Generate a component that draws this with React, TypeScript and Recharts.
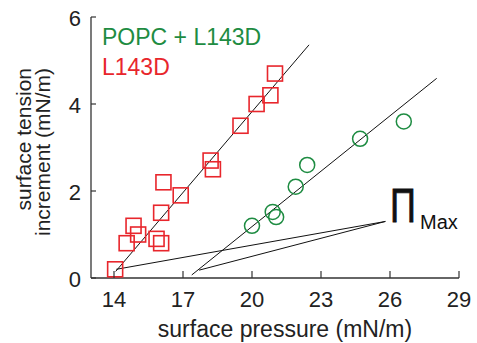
import React from "react";
import { ScatterChart, Scatter, XAxis, YAxis, ReferenceLine } from "recharts";

document.body.style.margin = "0";

const RED = "#e8262c";
const GREEN = "#1e8c42";
const FONT = "'Liberation Sans', Arial, sans-serif";

const xTicks = [14, 17, 20, 23, 26, 29];
const yTicks = [0, 2, 4, 6];

const l143d = [
  { x: 14.05, y: 0.2 },
  { x: 14.55, y: 0.8 },
  { x: 14.85, y: 1.2 },
  { x: 15.05, y: 1.0 },
  { x: 15.85, y: 0.9 },
  { x: 16.05, y: 0.8 },
  { x: 16.05, y: 1.5 },
  { x: 16.15, y: 2.2 },
  { x: 16.9, y: 1.9 },
  { x: 18.2, y: 2.7 },
  { x: 18.3, y: 2.5 },
  { x: 19.5, y: 3.5 },
  { x: 20.2, y: 4.0 },
  { x: 20.8, y: 4.2 },
  { x: 21.0, y: 4.7 },
];

const popcL143d = [
  { x: 20.0, y: 1.2 },
  { x: 20.9, y: 1.52 },
  { x: 21.05, y: 1.4 },
  { x: 21.9, y: 2.1 },
  { x: 22.4, y: 2.6 },
  { x: 24.7, y: 3.2 },
  { x: 26.6, y: 3.6 },
];

// linear fits and the two pointers to the x-intercepts
const fitL143d = [{ x: 14.07, y: 0.15 }, { x: 22.48, y: 5.36 }];
const fitPopc = [{ x: 17.38, y: 0.07 }, { x: 28.03, y: 4.59 }];
const pointerL143d = [{ x: 14.1, y: 0.2 }, { x: 25.8, y: 1.3 }];
const pointerPopc = [{ x: 17.7, y: 0.18 }, { x: 25.8, y: 1.3 }];

const Square = (p: any) => (
  <rect x={p.cx - 7.5} y={p.cy - 7.5} width={15} height={15} fill="none" stroke={RED} strokeWidth={1.6} />
);

const Ring = (p: any) => <circle cx={p.cx} cy={p.cy} r={7.5} fill="none" stroke={GREEN} strokeWidth={1.5} />;

const XTick = ({ x, y, payload }: any) => (
  <g>
    <line x1={x} y1={y} x2={x} y2={y - 7} stroke="#333" strokeWidth={1.2} />
    <text x={x} y={y + 29} textAnchor="middle" fontSize={22} fontFamily={FONT} fill="#222">
      {payload.value}
    </text>
  </g>
);

const YTick = ({ x, y, payload }: any) => (
  <g>
    <line x1={x} y1={y} x2={x + 5} y2={y} stroke="#333" strokeWidth={1.2} />
    <text x={x - 10} y={y + 9} textAnchor="end" fontSize={22} fontFamily={FONT} fill="#222">
      {payload.value}
    </text>
  </g>
);

const seg = (pts: { x: number; y: number }[]) => pts.map((p) => ({ x: p.x, y: p.y }));

export default function App() {
  return (
    <ScatterChart width={477} height={343} margin={{ top: 17, right: 18, bottom: 0, left: 0 }}>
      <XAxis
        type="number"
        dataKey="x"
        domain={[13, 29]}
        ticks={xTicks}
        allowDataOverflow
        height={65}
        tickSize={0}
        tickMargin={0}
        tickLine={false}
        axisLine={{ stroke: "#333", strokeWidth: 1.3 }}
        tick={<XTick />}
        label={{
          content: () => (
            <text x={285} y={337} textAnchor="middle" fontSize={23} fontFamily={FONT} fill="#222">
              surface pressure (mN/m)
            </text>
          ),
        }}
      />
      <YAxis
        type="number"
        dataKey="y"
        domain={[0, 6]}
        ticks={yTicks}
        allowDataOverflow
        width={91}
        tickSize={0}
        tickMargin={0}
        tickLine={false}
        axisLine={{ stroke: "#333", strokeWidth: 1.3 }}
        tick={<YTick />}
        label={{
          content: () => (
            <g fontSize={21} fontFamily={FONT} fill="#222" textAnchor="end">
              <text transform="translate(31,68) rotate(-90)">surface tension</text>
              <text transform="translate(50,68) rotate(-90)">increment (mN/m)</text>
            </g>
          ),
        }}
      />
      <ReferenceLine segment={seg(fitL143d)} stroke="#111" strokeWidth={1} />
      <ReferenceLine segment={seg(fitPopc)} stroke="#111" strokeWidth={1} />
      <ReferenceLine segment={seg(pointerL143d)} stroke="#111" strokeWidth={1} />
      <ReferenceLine segment={seg(pointerPopc)} stroke="#111" strokeWidth={1} />
      <Scatter name="L143D" data={l143d} shape={Square} isAnimationActive={false} />
      <Scatter name="POPC + L143D" data={popcL143d} shape={Ring} isAnimationActive={false} />
      <text x={102} y={45} fontSize={23} fontFamily={FONT} fill={GREEN}>
        POPC + L143D
      </text>
      <text x={102} y={75} fontSize={23} fontFamily={FONT} fill={RED}>
        L143D
      </text>
      <text transform="translate(390,222) scale(0.78,1.05)" fontSize={46} fontFamily={FONT} fill="#111" stroke="#111" strokeWidth={0.8}>
        Π
      </text>
      <text x={420} y={229} fontSize={20} fontFamily={FONT} fill="#111">
        Max
      </text>
    </ScatterChart>
  );
}
